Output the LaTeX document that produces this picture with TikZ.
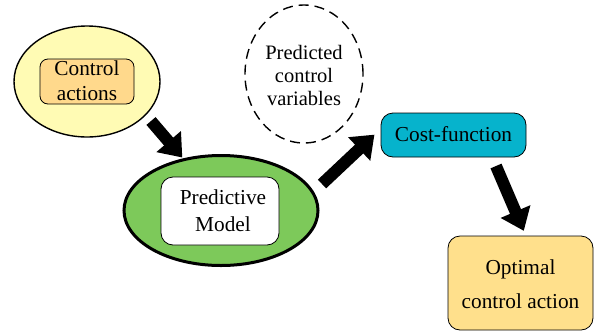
\documentclass[tikz,border=0pt]{standalone}
\usepackage{fontspec}
\setmainfont{Liberation Serif}
\usetikzlibrary{shapes.geometric,arrows.meta}
\definecolor{ylight}{HTML}{FFFBB4}
\definecolor{orangebox}{HTML}{FFD98C}
\definecolor{greenfill}{HTML}{7DC95A}
\definecolor{tealfill}{HTML}{06B3CC}
\definecolor{optfill}{HTML}{FFE08C}
\tikzset{
  oval/.style={ellipse, draw=black, inner sep=0pt},
  rbox/.style={draw=black, line width=0.8pt, rounded corners=12pt, inner sep=0pt, align=center},
  txt/.style={font=\fontsize{21.3}{25}\selectfont, align=center},
  bigarrow/.style={line width=12pt, -{Triangle[width=31pt,length=21pt]}, black},
}
\begin{document}
\begin{tikzpicture}[x=1pt,y=-1pt]
\useasboundingbox (0,0) rectangle (597,333);
% yellow ellipse with inner box
\node[oval, fill=ylight, line width=1.4pt, minimum width=146pt, minimum height=111pt] (ya) at (87,81.5) {};
\node[rbox, fill=orangebox, rounded corners=8pt, minimum width=94pt, minimum height=45pt] (ca) at (87,81.5) {};
\node[txt, font=\fontsize{21.3}{25}\selectfont] (catext) at (87,81) {Control\\actions};
% dashed circle
\node[oval, dashed, dash pattern=on 10pt off 6pt, line width=1.4pt, minimum width=118pt, minimum height=138pt] (pv) at (304,74) {};
\node[txt, font=\fontsize{20.5}{23}\selectfont] (pvtext) at (304,75) {Predicted\\control\\variables};
% green ellipse
\node[oval, fill=greenfill, line width=3pt, minimum width=194pt, minimum height=110pt] (gm) at (221,210.5) {};
\node[rbox, fill=white, minimum width=118pt, minimum height=68pt] (pm) at (220,211) {};
\node[txt, font=\fontsize{21.3}{27}\selectfont] (pmtext) at (223,211) {Predictive\\Model};
% cost function
\node[rbox, fill=tealfill, minimum width=145pt, minimum height=44pt] (cf) at (453.5,135) {};
\node[txt] (cftext) at (453.5,134) {Cost-function};
% optimal
\node[rbox, fill=optfill, minimum width=145pt, minimum height=94pt] (oc) at (520.5,283) {};
\node[txt, font=\fontsize{21.3}{34}\selectfont] (octext) at (520.5,284) {Optimal\\control action};
% arrow coordinates
\coordinate (a1s) at (151,121);
\coordinate (a1e) at (181,156);
\coordinate (a2s) at (322,184);
\coordinate (a2e) at (373,136);
\coordinate (a3s) at (496,166);
\coordinate (a3e) at (523,229);
\draw[bigarrow, shorten >=-2pt] (a1s) -- (a1e);
\draw[bigarrow, shorten >=-2pt] (a2s) -- (a2e);
\draw[bigarrow, shorten >=-2pt] (a3s) -- (a3e);
\end{tikzpicture}
\end{document}
